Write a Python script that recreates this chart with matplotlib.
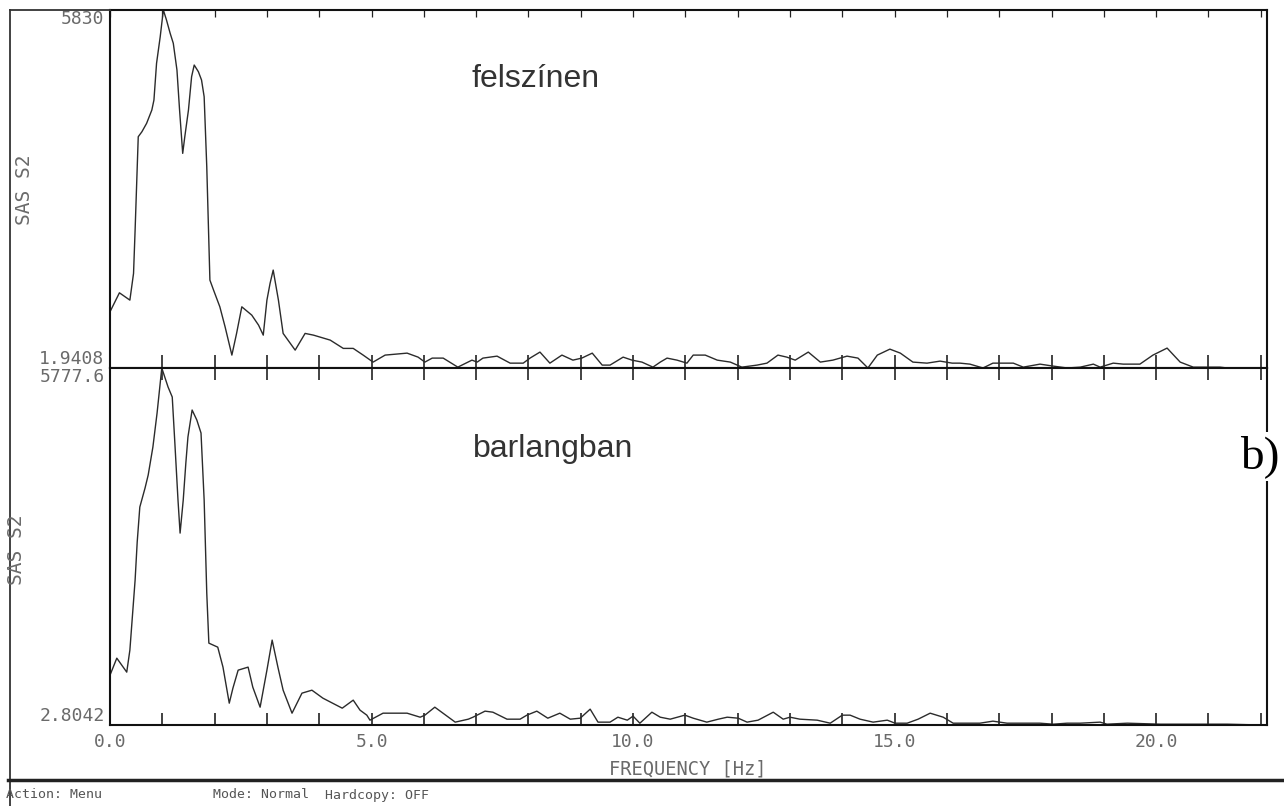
import numpy as np
import matplotlib
matplotlib.use("Agg")
import matplotlib.pyplot as plt
from matplotlib.lines import Line2D

# ---------------- data ----------------
freq_top = [0.00, 0.18, 0.38, 0.45, 0.48, 0.54, 0.61, 0.70, 0.80, 0.84, 0.89, 0.96, 1.02, 1.08,
            1.15, 1.21, 1.28, 1.33, 1.39, 1.43, 1.50, 1.56, 1.61, 1.69, 1.75, 1.80, 1.85, 1.91,
            1.98, 2.10, 2.20, 2.33, 2.42, 2.52, 2.71, 2.84, 2.93, 3.00, 3.06, 3.12, 3.22, 3.31,
            3.54, 3.73, 3.89, 4.21, 4.46, 4.65, 4.84,
            5.03, 5.26, 5.68, 5.89, 6.02, 6.16, 6.37, 6.65, 6.92, 7.02, 7.13, 7.40, 7.65, 7.90,
            8.03, 8.22, 8.41, 8.64, 8.85, 9.02, 9.22, 9.41, 9.56, 9.81, 9.98, 10.17, 10.38,
            10.52, 10.65, 10.84, 11.03, 11.15, 11.38, 11.61, 11.86, 12.08, 12.37, 12.56, 12.77,
            12.94, 13.10, 13.35, 13.58, 13.82, 14.09, 14.30, 14.49, 14.67, 14.91, 15.11, 15.35,
            15.62, 15.87, 16.10, 16.25, 16.44, 16.69, 16.88, 17.27, 17.46, 17.78, 18.03, 18.30,
            18.55, 18.80, 18.93, 19.18, 19.37, 19.69, 19.94, 20.21, 20.46, 20.71, 21.22, 21.36,
            22.10]
sas_top = [917, 1226, 1107, 1542, 2247, 3767, 3848, 3985, 4202, 4364, 4962, 5395, 5830, 5667,
           5451, 5288, 4853, 4202, 3496, 3767, 4202, 4744, 4934, 4825, 4690, 4418, 3278, 1433,
           1270, 998, 673, 212, 565, 998, 863, 700, 537, 1107, 1379, 1596, 1107, 565,
           293, 565, 537, 456, 321, 321, 212,
           98, 212, 244, 179, 98, 163, 163, 16, 130, 98, 163, 195, 81, 81,
           163, 261, 81, 212, 130, 163, 244, 49, 49, 179, 130, 98, 16,
           98, 163, 130, 81, 212, 212, 130, 98, 16, 49, 81, 212,
           179, 130, 261, 98, 130, 195, 163, 2.2, 212, 309, 244, 98,
           81, 114, 81, 81, 65, 2.2, 81, 81, 16, 65, 33, 2.2,
           16, 65, 16, 81, 65, 65, 212, 326, 98, 16, 16, 2.2,
           2.2]

freq_bot = [0.00, 0.13, 0.32, 0.38, 0.48, 0.52, 0.57, 0.67, 0.73, 0.82, 0.90, 0.99, 1.11, 1.19,
            1.24, 1.30, 1.34, 1.40, 1.45, 1.49, 1.57, 1.66, 1.74, 1.80, 1.85, 1.89, 2.06, 2.16,
            2.28, 2.35, 2.45, 2.64, 2.73, 2.87, 3.00, 3.10, 3.21, 3.31, 3.48, 3.67, 3.86, 4.07,
            4.44, 4.65, 4.78, 4.91, 4.97, 5.22, 5.68, 5.93, 6.02, 6.21, 6.60, 6.85, 6.94, 7.17,
            7.32, 7.59, 7.84, 7.97, 8.16, 8.37, 8.60, 8.80, 8.99, 9.18, 9.33, 9.56, 9.71, 9.89,
            10.00, 10.13, 10.36, 10.52, 10.71, 10.99, 11.15, 11.41, 11.63, 11.80, 12.01, 12.18,
            12.39, 12.68, 12.87, 13.00, 13.19, 13.52, 13.77, 14.00, 14.15, 14.34, 14.59, 14.86,
            15.01, 15.24, 15.45, 15.68, 15.93, 16.12, 16.44, 16.63, 16.88, 17.15, 17.53, 17.78,
            18.03, 18.30, 18.55, 18.93, 19.06, 19.45, 20.08, 20.71, 21.36, 21.99]
sas_bot = [809, 1084, 858, 1214, 2347, 2962, 3528, 3836, 4046, 4499, 5049, 5777.6, 5470, 5308,
           4564, 3641, 3107, 3641, 4240, 4661, 5098, 4936, 4726, 3641, 2136, 1327, 1262, 939,
           356, 599, 890, 939, 615, 291, 890, 1376, 939, 566, 194, 518, 566, 437,
           275, 405, 243, 162, 81, 194, 194, 129, 162, 291, 49, 97, 129, 227,
           210, 97, 97, 162, 227, 113, 194, 97, 113, 259, 49, 49, 129, 81,
           146, 32, 210, 129, 97, 162, 113, 49, 97, 129, 113, 49,
           81, 210, 97, 129, 97, 81, 32, 162, 162, 97, 49, 81,
           32, 32, 97, 194, 129, 32, 32, 32, 65, 32, 32, 32,
           16, 32, 32, 49, 16, 32, 16, 16, 16, 3.2]

ylim_top = (1.9408, 5830)
ylim_bot = (2.8042, 5777.6)
ylabels_top = ["1.9408", "5830"]
ylabels_bot = ["2.8042", "5777.6"]
panel_titles = ["felszínen", "barlangban"]
xlabel = "FREQUENCY [Hz]"
ylabel = "SAS S2"
status_items = ["Action: Menu", "Mode: Normal", "Hardcopy: OFF"]

# ---------------- figure ----------------
W, H = 1284, 806
fig = plt.figure(figsize=(W / 100, H / 100), dpi=100)
fig.patch.set_facecolor("white")


def fx(x):
    return x / W


def fy(y):
    return 1 - y / H


L, R = 110, 1267
T1, B1 = 10, 368
T2, B2 = 368, 725
mono = "DejaVu Sans Mono"
gray = "#6a6a6a"
line_col = "#2b2b2b"

ax1 = fig.add_axes([fx(L), fy(B1), fx(R - L), (B1 - T1) / H])
ax2 = fig.add_axes([fx(L), fy(B2), fx(R - L), (B2 - T2) / H])

for ax, f, v, yl, ylab in [(ax1, freq_top, sas_top, ylim_top, ylabels_top),
                           (ax2, freq_bot, sas_bot, ylim_bot, ylabels_bot)]:
    ax.plot(f, v, color=line_col, lw=1.0)
    ax.set_xlim(0, 22.12)
    ax.set_ylim(*yl)
    for s in ax.spines.values():
        s.set_linewidth(1.5)
        s.set_color("#111111")
    ax.set_xticks(np.arange(0, 23, 1))
    ax.tick_params(axis="x", direction="in", length=8.5, width=1.2, color="#222222",
                   top=True, bottom=True)
    ax.set_yticks(list(yl), labels=ylab)
    ax.tick_params(axis="y", length=0, pad=4, labelsize=13, labelcolor=gray)
    for t in ax.get_yticklabels():
        t.set_fontfamily(mono)
    tl = ax.get_yticklabels()
    tl[0].set_va("bottom")
    tl[1].set_va("top")
    ax.set_facecolor("white")

# shorter, thinner ticks along the very top edge
for t in ax1.xaxis.get_major_ticks():
    t.tick2line.set_markersize(5)
    t.tick2line.set_markeredgewidth(0.9)
    t.tick1line.set_markersize(9.5)
for t in ax2.xaxis.get_major_ticks():
    t.tick2line.set_markersize(7.5)

ax1.tick_params(axis="x", labelbottom=False)
ax2.set_xticklabels(["%.1f" % i if i % 5 == 0 else "" for i in range(23)])
ax2.tick_params(axis="x", labelsize=13, labelcolor=gray, pad=6)
for t in ax2.get_xticklabels():
    t.set_fontfamily(mono)

# panel titles
fig.text(fx(472), fy(87), panel_titles[0], fontsize=23, family="Liberation Sans",
         color="#333333", ha="left", va="baseline")
fig.text(fx(473), fy(457), panel_titles[1], fontsize=23, family="Liberation Sans",
         color="#333333", ha="left", va="baseline")

# y labels
fig.text(fx(25), fy(190), ylabel, rotation=90, fontsize=14, family=mono, color=gray,
         ha="center", va="center")
fig.text(fx(17), fy(550), ylabel, rotation=90, fontsize=14, family=mono, color=gray,
         ha="center", va="center")

# x label
fig.text(fx(688), fy(769), xlabel, fontsize=13.5, family=mono, color=gray,
         ha="center", va="center")

# b) label
fig.text(fx(1240), fy(468), "b)", fontsize=34, family="Liberation Serif", color="black",
         ha="left", va="baseline", zorder=10,
         bbox=dict(facecolor="white", edgecolor="none", pad=2))

# outer frame lines and status bar
fig.add_artist(Line2D([fx(10), fx(10)], [fy(10), fy(806)], color="#333333", lw=1.3))
fig.add_artist(Line2D([fx(10), fx(L)], [fy(10), fy(10)], color="#333333", lw=1.3))
fig.add_artist(Line2D([fx(8), fx(1284)], [fy(780), fy(780)], color="#222222", lw=2.5))
xs = [6, 213, 325]
for x, s in zip(xs, status_items):
    fig.text(fx(x), fy(795), s, fontsize=9.5, family=mono, color="#555555",
             ha="left", va="center")

fig.savefig("out.png", dpi=100)
